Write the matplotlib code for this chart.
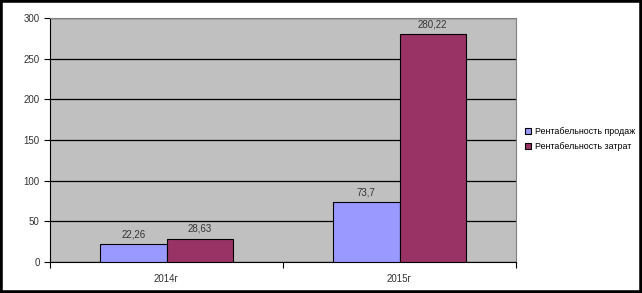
import matplotlib
matplotlib.use("Agg")
import matplotlib.pyplot as plt
from matplotlib.patches import Rectangle

plt.rcParams['font.family'] = ['Liberation Sans', 'DejaVu Sans']

categories = ['2014г', '2015г']
sales = [22.26, 73.7]
costs = [28.63, 280.22]
sales_labels = ['22,26', '73,7']
costs_labels = ['28,63', '280,22']
series_names = ['Рентабельность продаж', 'Рентабельность затрат']


def main():
    fig = plt.figure(figsize=(6.42, 2.93), dpi=100)
    ax = fig.add_axes([50 / 642, 31 / 293, 466 / 642, 244 / 293])
    ax.set_facecolor('#C0C0C0')

    x = list(range(len(categories)))
    w = 0.285
    b1 = ax.bar([i - w / 2 for i in x], sales, w, color='#9999FF',
                edgecolor='black', linewidth=0.8, label=series_names[0], zorder=3)
    b2 = ax.bar([i + w / 2 for i in x], costs, w, color='#993366',
                edgecolor='black', linewidth=0.8, label=series_names[1], zorder=3)
    ax.bar_label(b1, labels=sales_labels, padding=3.5, fontsize=7, color='#333333')
    ax.bar_label(b2, labels=costs_labels, padding=3.5, fontsize=7, color='#333333')

    ax.set_xlim(-0.5, 1.5)
    ax.set_ylim(0, 300)
    ax.set_yticks(range(0, 301, 50))
    ax.yaxis.grid(True, color='black', linewidth=0.9, zorder=1)
    ax.set_axisbelow(True)

    # category labels centred, ticks between categories
    ax.set_xticks([-0.5, 0.5, 1.5])
    ax.set_xticklabels([])
    ax.set_xticks(x, minor=True)
    ax.set_xticklabels(categories, minor=True)
    ax.tick_params(axis='x', which='minor', length=0, labelsize=7, pad=9, labelcolor='#333333')
    ax.tick_params(axis='x', which='major', length=4, direction='out')
    ax.tick_params(axis='y', length=4, labelsize=7, labelcolor='#333333')

    for side in ['top', 'right']:
        ax.spines[side].set_color('#808080')
    ax.spines['left'].set_color('black')
    ax.spines['bottom'].set_color('black')

    fig.legend(handles=[b1, b2], loc='center left', bbox_to_anchor=(519 / 642, 1 - 139 / 293),
               frameon=False, fontsize=6.4, handlelength=0.7, handleheight=0.7,
               handletextpad=0.35, labelspacing=0.7, borderpad=0.2)

    fig.patches.append(Rectangle((0, 0), 1, 1, transform=fig.transFigure, fill=False,
                                 edgecolor='black', linewidth=4))

    fig.savefig('out.png', dpi=100)


if __name__ == "__main__":
    main()
